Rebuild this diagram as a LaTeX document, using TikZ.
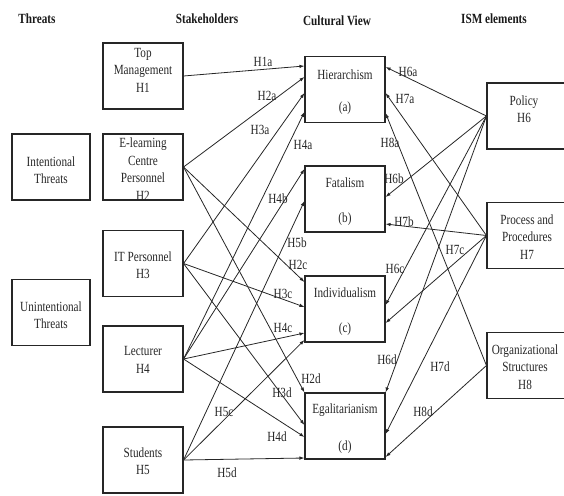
\documentclass[tikz,border=0pt]{standalone}
\usepackage{fontspec}
\setmainfont{Liberation Serif}[FakeStretch=0.8]
\usetikzlibrary{arrows.meta}
\begin{document}
\begin{tikzpicture}[x=1pt,y=-1pt,
  box/.style={draw=black!85, line width=1.1pt, minimum width=80pt, minimum height=66pt, inner sep=0pt},
  txt/.style={align=center, font=\fontsize{14}{17.5}\selectfont, inner sep=0pt, text=black!85},
  head/.style={font=\fontsize{14}{17}\selectfont\bfseries, inner sep=0pt, text=black!90},
  lab/.style={font=\fontsize{14}{17}\selectfont, inner sep=0pt, text=black!85},
  conn/.style={draw=black!85, line width=0.8pt, -{Latex[length=5pt,width=3.5pt]}}]
\useasboundingbox (0,0) rectangle (564,495);
\clip (0,0) rectangle (564,495);
% headers
\node[head] (hth) at (37,19) {Threats};
\node[head] (hst) at (207,19) {Stakeholders};
\node[head] (hcv) at (337,21) {Cultural View};
\node[head] (him) at (494,19) {ISM elements};
% threats
\node[box, minimum width=78pt] (ti) at (51,167) {};
\node[txt] (tit) at (51,170) {Intentional\\Threats};
\node[box, minimum width=78pt] (tu) at (51,312.5) {};
\node[txt] (tut) at (51,315) {Unintentional\\Threats};
% stakeholders
\node[box] (h1) at (143,76) {};
\node[txt] (h1t) at (143,70) {Top\\Management\\H1};
\node[box] (h2) at (143,167) {};
\node[txt] (h2t) at (143,169) {E-learning\\Centre\\Personnel\\H2};
\node[box] (h3) at (143,263.5) {};
\node[txt] (h3t) at (143,265) {IT Personnel\\H3};
\node[box] (h4) at (143,359) {};
\node[txt] (h4t) at (143,360) {Lecturer\\H4};
\node[box] (h5) at (143,460) {};
\node[txt] (h5t) at (143,461) {Students\\H5};
% cultural view
\node[box] (ca) at (345,89.5) {};
\node[txt] (ca1) at (345,75) {Hierarchism};
\node[txt] (ca2) at (345,108) {(a)};
\node[box] (cb) at (345,199) {};
\node[txt] (cb1) at (345,183) {Fatalism};
\node[txt] (cb2) at (345,219) {(b)};
\node[box] (cc) at (345,309) {};
\node[txt] (cc1) at (345,293) {Individualism};
\node[txt] (cc2) at (345,329) {(c)};
\node[box] (cd) at (345,426) {};
\node[txt] (cd1) at (345,410) {Egalitarianism};
\node[txt] (cd2) at (345,447) {(d)};
% ISM elements
\node[box, minimum width=79pt] (p6) at (526.5,116) {};
\node[txt] (p6t) at (524,109) {Policy\\H6};
\node[box, minimum width=79pt] (p7) at (526.5,235.5) {};
\node[txt] (p7t) at (527,237) {Process and\\Procedures\\H7};
\node[box, minimum width=79pt] (p8) at (526.5,365.5) {};
\node[txt] (p8t) at (525,367) {Organizational\\Structures\\H8};
% stakeholder connectors
\draw[conn] (h1.east) -- ([yshift=23.5pt]ca.west);
\draw[conn] (h2.east) -- ([yshift=12.5pt]ca.west);
\draw[conn] (h3.east) -- ([yshift=-3.5pt]ca.west);
\draw[conn] (h4.east) -- ([yshift=-22.5pt]ca.west);
\draw[conn] (h4.east) -- ([yshift=30pt]cb.west);
\draw[conn] (h5.east) -- ([yshift=-2pt]cb.west);
\draw[conn] (h2.east) -- ([yshift=27pt]cc.west);
\draw[conn] (h3.east) -- ([yshift=2pt]cc.west);
\draw[conn] (h4.east) -- ([yshift=-24pt]cc.west);
\draw[conn] (h5.east) -- ([yshift=-31pt]cc.west);
\draw[conn] (h2.east) -- (cd.north west);
\draw[conn] (h3.east) -- ([yshift=1pt]cd.west);
\draw[conn] (h4.east) -- ([yshift=-11pt]cd.west);
\draw[conn] (h5.east) -- ([yshift=-32pt]cd.west);
% ISM connectors
\draw[conn] (p6.west) -- ([yshift=22.5pt]ca.east);
\draw[conn] (p7.west) -- ([yshift=-3.5pt]ca.east);
\draw[conn] (p8.west) -- ([yshift=-23.5pt]ca.east);
\draw[conn] (p6.west) -- ([yshift=2pt]cb.east);
\draw[conn] (p7.west) -- ([yshift=-25pt]cb.east);
\draw[conn] (p6.west) -- ([yshift=4pt]cc.east);
\draw[conn] (p7.west) -- ([yshift=-14pt]cc.east);
\draw[conn] (p6.west) -- (cd.north east);
\draw[conn] (p7.west) -- ([yshift=-8pt]cd.east);
\draw[conn] (p8.west) -- ([yshift=-31pt]cd.east);
% labels
\node[lab] (l1a) at (263,62) {H1a};
\node[lab] (l2a) at (267,96) {H2a};
\node[lab] (l3a) at (260,130) {H3a};
\node[lab] (l4a) at (303,145) {H4a};
\node[lab] (l4b) at (278,199) {H4b};
\node[lab] (l5b) at (297,243) {H5b};
\node[lab] (l2c) at (298,265) {H2c};
\node[lab] (l3c) at (283,294) {H3c};
\node[lab] (l4c) at (283,328) {H4c};
\node[lab] (l2d) at (311,379) {H2d};
\node[lab] (l3d) at (282,393) {H3d};
\node[lab] (l5c) at (224,412) {H5c};
\node[lab] (l4d) at (277,437) {H4d};
\node[lab] (l5d) at (227,473) {H5d};
\node[lab] (l6a) at (408,72) {H6a};
\node[lab] (l7a) at (405,99) {H7a};
\node[lab] (l8a) at (390,143) {H8a};
\node[lab] (l6b) at (394,179) {H6b};
\node[lab] (l7b) at (404,222) {H7b};
\node[lab] (l7c) at (455,250) {H7c};
\node[lab] (l6c) at (395,269) {H6c};
\node[lab] (l6d) at (387,360) {H6d};
\node[lab] (l7d) at (440,367) {H7d};
\node[lab] (l8d) at (423,412) {H8d};
\end{tikzpicture}
\end{document}
